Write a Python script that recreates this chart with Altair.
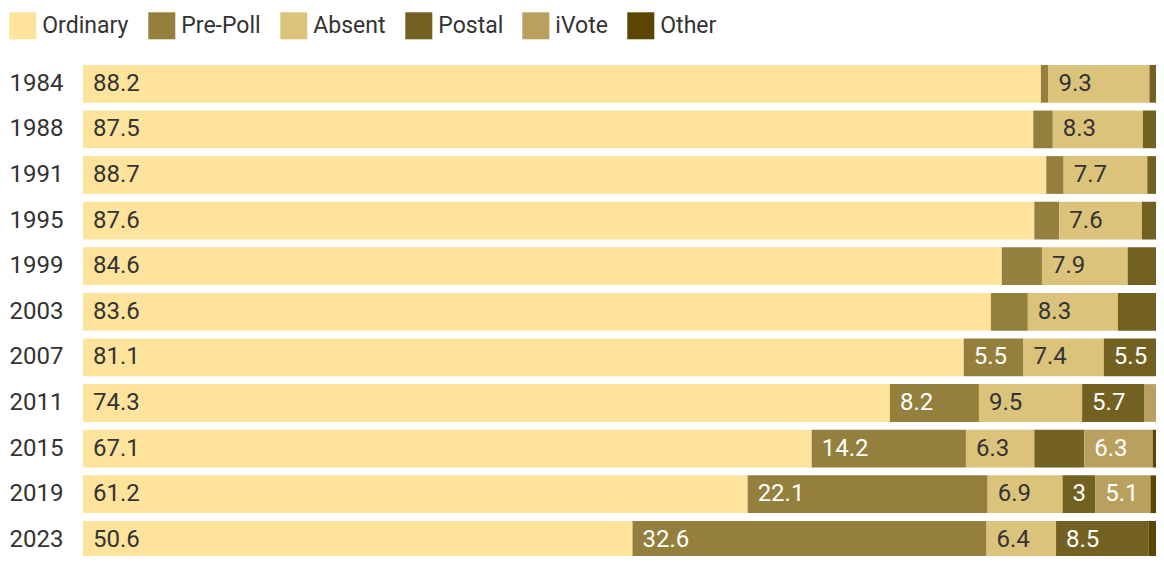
import altair as alt
import pandas as pd

years = ["1984", "1988", "1991", "1995", "1999", "2003", "2007", "2011", "2015", "2019", "2023"]
categories = ["Ordinary", "Pre-Poll", "Absent", "Postal", "iVote", "Other"]
colors = ["#fee39c", "#94803c", "#dbc37b", "#736121", "#b9a05e", "#5a4600"]

ordinary = [88.2, 87.5, 88.7, 87.6, 84.6, 83.6, 81.1, 74.3, 67.1, 61.2, 50.6]
pre_poll = [0.7, 1.8, 1.6, 2.3, 3.7, 3.4, 5.5, 8.2, 14.2, 22.1, 32.6]
absent = [9.3, 8.3, 7.7, 7.6, 7.9, 8.3, 7.4, 9.5, 6.3, 6.9, 6.4]
postal = [1.8, 2.4, 2.0, 2.5, 3.8, 4.7, 5.5, 5.7, 4.6, 3.0, 8.5]
ivote = [0, 0, 0, 0, 0, 0, 0, 1.1, 6.3, 5.1, 0]
other = [0, 0, 0, 0, 0, 0, 0.5, 1.2, 1.5, 1.7, 1.9]

series = [ordinary, pre_poll, absent, postal, ivote, other]

labelled = {
    "Ordinary": years,
    "Pre-Poll": ["2007", "2011", "2015", "2019", "2023"],
    "Absent": years,
    "Postal": ["2007", "2011", "2019", "2023"],
    "iVote": ["2015", "2019"],
    "Other": [],
}
dark_text = ["Ordinary", "Absent"]

rows = []
for ci, (cat, vals) in enumerate(zip(categories, series)):
    for y, v in zip(years, vals):
        rows.append(dict(
            year=y, category=cat, order=ci, value=v,
            label=(f"{v:g}" if y in labelled[cat] else ""),
            dark=(cat in dark_text),
        ))
df = pd.DataFrame(rows)

FONT = "Roboto"

base = alt.Chart(df).transform_stack(
    stack="value", groupby=["year"], sort=[alt.SortField("order")], as_=["x0", "x1"]
)

yenc = alt.Y(
    "year:N", sort=years,
    scale=alt.Scale(range=[0, 501.6], paddingInner=0.172, paddingOuter=0.086),
    axis=alt.Axis(title=None, domain=False, ticks=False, labelPadding=20,
                  labelFontSize=24, labelFont=FONT, labelColor="#333333"),
)

bars = base.mark_bar(clip=True).encode(
    x=alt.X("x0:Q", scale=alt.Scale(domain=[0, 100], range=[0, 1086]), axis=None),
    x2="x1:Q",
    y=yenc,
    color=alt.Color(
        "category:N",
        scale=alt.Scale(domain=categories, range=colors),
        legend=alt.Legend(
            title=None, orient="none", legendX=-73.7, legendY=-48.7,
            direction="horizontal", symbolType="square", symbolSize=729,
            symbolStrokeWidth=0, symbolOpacity=1,
            labelFontSize=23, labelFont=FONT, labelColor="#333333",
            labelOffset=6, columnPadding=19,
        ),
    ),
)

text = base.mark_text(align="left", baseline="middle", dx=10, fontSize=24,
                      font=FONT, clip=True).encode(
    x=alt.X("x0:Q"),
    y=alt.Y("year:N", sort=years),
    text="label:N",
    color=alt.condition("datum.dark", alt.value("#333333"), alt.value("#ffffff")),
)

chart = alt.layer(bars, text).properties(
    width=1073, height=495,
    autosize=alt.AutoSizeParams(type="none"),
    padding={"left": 75, "top": 53, "right": 0, "bottom": 0},
    background="white",
).configure_view(stroke=None)

chart.save("out.html", embed_options={"renderer": "svg", "actions": False})
